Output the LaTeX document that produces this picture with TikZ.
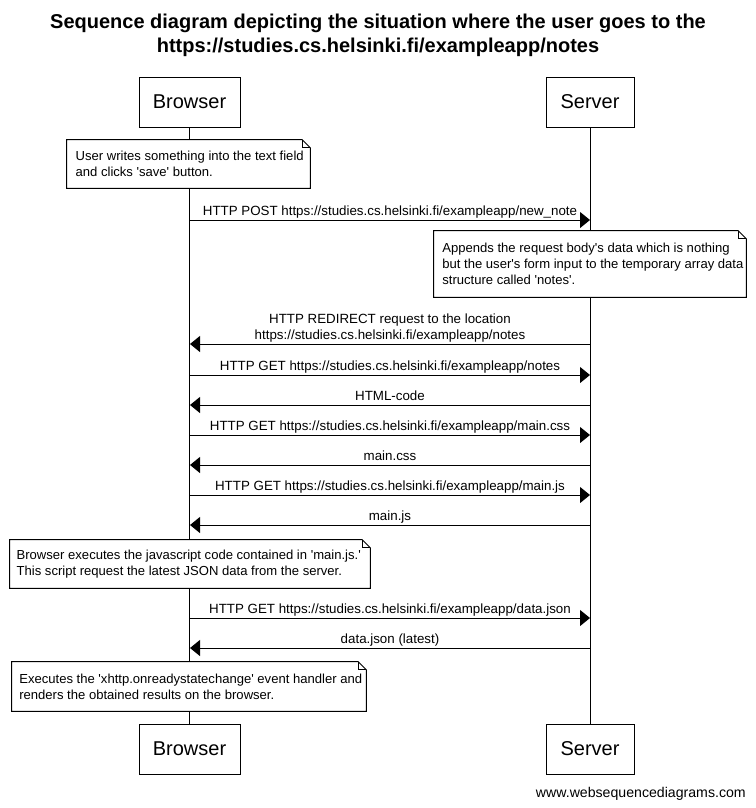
\documentclass[tikz,border=0pt]{standalone}
\usepackage{fontspec}
\setmainfont{Liberation Sans}
\usetikzlibrary{arrows.meta,fit}
\newcommand\sq{\textquotesingle}
\tikzset{
  actor/.style={draw, line width=0.75pt, fill=white, minimum height=37.5pt, inner sep=0pt,
    font=\fontsize{15}{18}\selectfont},
  life/.style={line width=0.75pt},
  msg/.style={line width=0.75pt, -{Triangle[length=7.5pt,width=12pt]}},
  lbl/.style={anchor=south, inner sep=0pt, text depth=0pt, yshift=3pt, align=center,
    font=\fontsize{10}{12}\selectfont},
  notebox/.style={fill=white, inner sep=0pt},
  notetext/.style={anchor=west, inner sep=0pt, align=left, font=\fontsize{9.8}{12.2}\selectfont},
  noteline/.style={line width=0.75pt, line join=miter},
}
\newcommand\drawnotefold[1]{%
  \draw[noteline] (#1.north west) -- ([xshift=-6pt]#1.north east) -- ([yshift=-6pt]#1.north east)
    -- (#1.south east) -- (#1.south west) -- cycle;
  \draw[noteline] ([xshift=-6pt]#1.north east) -- ([xshift=-6pt,yshift=-6pt]#1.north east)
    -- ([yshift=-6pt]#1.north east);}
\begin{document}
\begin{tikzpicture}[x=0.75pt,y=-0.75pt]
\fill[white] (0,0) rectangle (756,808);
\useasboundingbox (0,0) rectangle (756,808);

% title
\node[anchor=north, inner sep=0pt, align=center, font=\fontsize{15}{18}\selectfont\bfseries]
  (title) at (378,14) {Sequence diagram depicting the situation where the user goes to the\\https://studies.cs.helsinki.fi/exampleapp/notes};

% participants
\node[actor, minimum width=75.75pt] (bt) at (189.5,102) {Browser};
\node[actor, minimum width=66pt] (st) at (590,102) {Server};
\node[actor, minimum width=75.75pt] (bb) at (189.5,749) {Browser};
\node[actor, minimum width=66pt] (sb) at (590,749) {Server};
\draw[life] (bt) -- (bb);
\draw[life] (st) -- (sb);

% message endpoints on lifelines
\foreach \i/\y in {1/220,2/344,3/375,4/405,5/435,6/465,7/495,8/525,9/618,10/648}{
  \coordinate (b\i) at (190,\y);
  \coordinate (s\i) at (590,\y);
}

% note 1
\node[notebox, fit={(67,140) (310,188)}] (n1) {};
\drawnotefold{n1}
\node[notetext] (n1t) at ([xshift=6.5pt]n1.west) {User writes something into the text field\\and clicks \sq save\sq{} button.};

\draw[msg] (b1) -- (s1) node[midway,lbl] (m1) {HTTP POST https://studies.cs.helsinki.fi/exampleapp/new\_note};

% note 2
\node[notebox, fit={(434,231) (746,297)}] (n2) {};
\drawnotefold{n2}
\node[notetext] (n2t) at ([xshift=6.3pt]n2.west) {Appends the request body\sq s data which is nothing\\but the user\sq s form input to the temporary array data\\structure called \sq notes\sq.};

\draw[msg] (s2) -- (b2) node[midway,lbl] (m2) {HTTP REDIRECT request to the location\\https://studies.cs.helsinki.fi/exampleapp/notes};
\draw[msg] (b3) -- (s3) node[midway,lbl] (m3) {HTTP GET https://studies.cs.helsinki.fi/exampleapp/notes};
\draw[msg] (s4) -- (b4) node[midway,lbl] (m4) {HTML-code};
\draw[msg] (b5) -- (s5) node[midway,lbl] (m5) {HTTP GET https://studies.cs.helsinki.fi/exampleapp/main.css};
\draw[msg] (s6) -- (b6) node[midway,lbl] (m6) {main.css};
\draw[msg] (b7) -- (s7) node[midway,lbl] (m7) {HTTP GET https://studies.cs.helsinki.fi/exampleapp/main.js};
\draw[msg] (s8) -- (b8) node[midway,lbl] (m8) {main.js};

% note 3
\node[notebox, fit={(10,540) (370,588)}] (n3) {};
\drawnotefold{n3}
\node[notetext] (n3t) at ([xshift=5pt]n3.west) {Browser executes the javascript code contained in \sq main.js.\sq\\This script request the latest JSON data from the server.};

\draw[msg] (b9) -- (s9) node[midway,lbl] (m9) {HTTP GET https://studies.cs.helsinki.fi/exampleapp/data.json};
\draw[msg] (s10) -- (b10) node[midway,lbl] (m10) {data.json (latest)};

% note 4
\node[notebox, fit={(12,662) (366,711)}] (n4) {};
\drawnotefold{n4}
\node[notetext] (n4t) at ([xshift=5.5pt]n4.west) {Executes the \sq xhttp.onreadystatechange\sq{} event handler and\\renders the obtained results on the browser.};

% footer
\node[anchor=base east, inner sep=0pt, font=\fontsize{10.6}{12}\selectfont] (foot) at (746,797) {www.websequencediagrams.com};
\end{tikzpicture}
\end{document}
